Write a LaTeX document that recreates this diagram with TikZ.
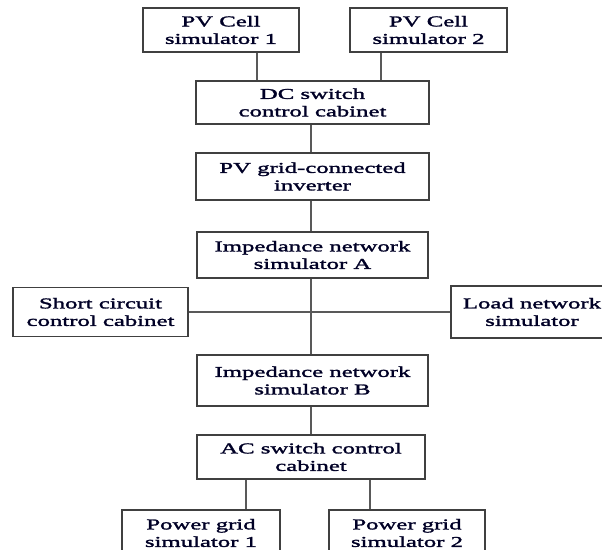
\documentclass[tikz,border=0pt]{standalone}
\usepackage{fontspec}
\setmainfont{Liberation Serif}[FakeStretch=1.65,FakeBold=1.8]
\begin{document}
\begin{tikzpicture}[x=1pt,y=-1pt,
  box/.style={draw=black!75,line width=1.8pt,inner sep=0pt,align=center,
    font=\fontsize{15}{17.5}\selectfont,text=black!85!blue},
  wire/.style={draw=black!65,line width=2.4pt}]
\useasboundingbox (0,0) rectangle (602,549);
\fill[white] (0,0) rectangle (602,549);
\clip (0,0) rectangle (602,549);
\node[box,minimum width=156,minimum height=44] (pv1) at (221,30) {PV Cell\\simulator 1};
\node[box,minimum width=157,minimum height=44] (pv2) at (428.5,30) {PV Cell\\simulator 2};
\node[box,minimum width=233,minimum height=43] (dc) at (312.5,102.5) {DC switch\\control cabinet};
\node[box,minimum width=233,minimum height=47] (inv) at (312.5,176.5) {PV grid-connected\\inverter};
\node[box,minimum width=231,minimum height=46] (ia) at (312.5,255) {Impedance network\\simulator A};
\node[box,minimum width=175,minimum height=49] (sc) at (100.5,312) {Short circuit\\control cabinet};
\node[box,minimum width=162,minimum height=52] (ln) at (532,312) {Load network\\simulator};
\node[box,minimum width=231,minimum height=51] (ib) at (312.5,380.5) {Impedance network\\simulator B};
\node[box,minimum width=228,minimum height=44] (ac) at (311,457) {AC switch control\\cabinet};
\node[box,minimum width=158,minimum height=46] (pg1) at (201,533) {Power grid\\simulator 1};
\node[box,minimum width=156,minimum height=46] (pg2) at (407,533) {Power grid\\simulator 2};
\coordinate (l1) at (257,0);
\coordinate (l2) at (381,0);
\coordinate (l3) at (246,0);
\coordinate (l4) at (370,0);
\coordinate (lm) at (311,0);
\draw[wire] (l1 |- pv1.south) -- (l1 |- dc.north);
\draw[wire] (l2 |- pv2.south) -- (l2 |- dc.north);
\draw[wire] (lm |- dc.south) -- (lm |- inv.north);
\draw[wire] (lm |- inv.south) -- (lm |- ia.north);
\draw[wire] (lm |- ia.south) -- (lm |- ib.north);
\draw[wire] (sc.east) -- (ln.west);
\draw[wire] (lm |- ib.south) -- (lm |- ac.north);
\draw[wire] (l3 |- ac.south) -- (l3 |- pg1.north);
\draw[wire] (l4 |- ac.south) -- (l4 |- pg2.north);
\end{tikzpicture}
\end{document}
